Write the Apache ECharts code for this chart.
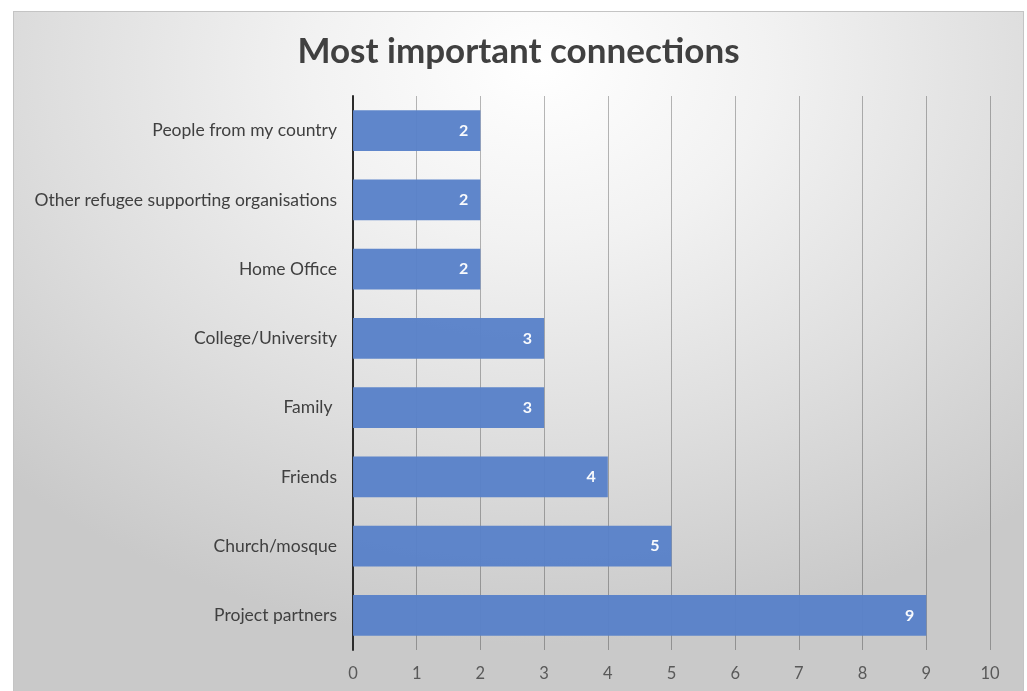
<!DOCTYPE html>
<html>
<head>
<meta charset="utf-8">
<script src="https://cdn.jsdelivr.net/npm/echarts@6/dist/echarts.min.js"></script>
<style>
  html, body { margin: 0; padding: 0; background: #ffffff; width: 1027px; height: 691px; overflow: hidden; }
  #frame {
    position: absolute; left: 13px; top: 11px; width: 1009px; height: 680px;
    border: 1px solid #c4c4c4; border-bottom: none;
    background: radial-gradient(ellipse 75% 85% at 52% 8%, #ffffff 0%, #f2f2f2 30%, #dedede 65%, #c9c9c9 100%);
  }
  #chart { position: absolute; left: 0; top: 0; width: 1009px; height: 680px; }
</style>
</head>
<body>
<div id="frame"><div id="chart"></div></div>
<script>
const titleText = 'Most important connections';
const categories = ['Project partners', 'Church/mosque', 'Friends', 'Family ', 'College/University', 'Home Office', 'Other refugee supporting organisations', 'People from my country'];
const values = [9, 5, 4, 3, 3, 2, 2, 2];
const xTicks = [0, 1, 2, 3, 4, 5, 6, 7, 8, 9, 10];

const chart = echarts.init(document.getElementById('chart'), null, { renderer: 'canvas' });
chart.setOption({
  backgroundColor: 'transparent',
  animation: false,
  title: {
    text: titleText,
    left: 'center',
    top: 17,
    textStyle: { fontFamily: 'Lato', fontWeight: 'bold', fontSize: 35, color: '#404040' }
  },
  grid: { left: 339, right: 33, top: 84, bottom: 42, containLabel: false },
  xAxis: {
    type: 'value',
    min: xTicks[0],
    max: xTicks[xTicks.length - 1],
    interval: 1,
    axisLine: { show: false },
    axisTick: { show: false },
    axisLabel: { color: '#595959', fontFamily: 'Lato', fontSize: 16.5, margin: 15 },
    splitLine: { show: true, lineStyle: { color: 'rgba(0,0,0,0.28)', width: 1 } }
  },
  yAxis: {
    type: 'category',
    data: categories,
    axisLine: { show: true, lineStyle: { color: '#2b2b2b', width: 2 } },
    axisTick: { show: false },
    axisLabel: { color: '#404040', fontFamily: 'Lato', fontSize: 17.5, margin: 16 }
  },
  series: [{
    type: 'bar',
    data: values,
    barCategoryGap: '41%',
    itemStyle: { color: '#5881c9', opacity: 0.96 },
    label: {
      show: true,
      position: 'insideRight',
      distance: 12,
      color: '#ffffff',
      fontFamily: 'Lato',
      fontWeight: 'bold',
      fontSize: 16
    }
  }]
});
</script>
</body>
</html>
